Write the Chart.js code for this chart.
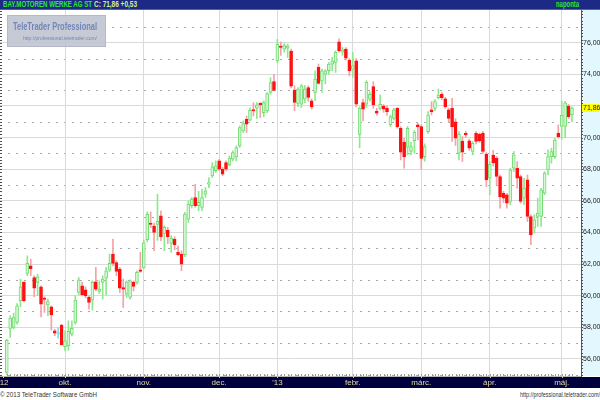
<!DOCTYPE html>
<html>
<head>
<meta charset="utf-8">
<script src="https://cdn.jsdelivr.net/npm/chart.js@4.4.0/dist/chart.umd.min.js"></script>
<style>
  html, body { margin: 0; padding: 0; background: #fff; }
  #wrap { position: relative; width: 600px; height: 400px; overflow: hidden;
          font-family: "Liberation Sans Narrow", "Liberation Sans", Arial, sans-serif; }
  #title { position: absolute; left: 0; top: 0; width: 600px; height: 9px;
           background: #1c2a86; border-bottom: 1px solid #5060b0; }
  #title span, #footer span, #logo span { position: absolute; white-space: nowrap; transform-origin: 0 0; }
  #title span { top: 0; font-size: 9px; line-height: 9px; font-weight: bold; }
  #tName, #tFreq { color: #2ee82e; }
  #tQuote { color: #d8f08a; }
  #chart { position: absolute; left: 0; top: 10px; }
  #logo { position: absolute; left: 7px; top: 15px; width: 97px; height: 30px;
          background: rgba(192, 196, 208, 0.9); border: 1px solid #b4b8c8; }
  #logo span { color: #7486b8; }
  #lName { left: 5px; top: 4px; font-size: 11px; line-height: 12px; font-weight: bold; }
  #lUrl { left: 15px; top: 19px; font-size: 6px; line-height: 7px; }
  #footer span { top: 390px; font-size: 8px; line-height: 10px; color: #333; }
</style>
</head>
<body>
<div id="wrap">
  <div id="title">
    <span id="tName">BAY.MOTOREN WERKE AG ST</span>
    <span id="tQuote">C: 71,86 +0,53</span>
    <span id="tFreq">naponta</span>
  </div>
  <canvas id="chart" width="600" height="378"></canvas>
  <div id="logo">
    <span id="lName">TeleTrader Professional</span>
    <span id="lUrl">http://professional.teletrader.com/</span>
  </div>
  <div id="footer">
    <span id="fCopy">© 2013 TeleTrader Software GmbH</span>
    <span id="fUrl">http://professional.teletrader.com/</span>
  </div>
</div>
<script>
// month labels of the time axis and the trading day each month starts on
const monthLabels = ["'12", 'okt.', 'nov.', 'dec.', "'13", 'febr.', 'márc.', 'ápr.', 'máj.'];
const monthStarts = [-1, 17, 40, 62, 79, 101, 121, 141, 162];
const priceTicks = [56, 58, 60, 62, 64, 66, 68, 70, 72, 74, 76];

// daily OHLC, 2012-09-06 .. 2013-05-07
const opens = [
  55.14, 57.93, 58.0, 58.31, 59.68, 60.84, 61.41, 61.89, 61.15, 60.84,
  60.56, 59.85, 59.42, 59.30, 57.78, 57.6, 58.14, 56.77, 56.83, 57.57,
  58.31, 60.2, 60.63, 60.37, 59.89, 59.72, 60.88, 60.27, 60.84, 61.11,
  61.62, 62.63, 62.10, 61.68, 60.52, 60.1, 59.89, 60.84, 60.84, 61.64,
  61.75, 63.55, 64.6, 64.4, 64.5, 65.05, 63.94, 64.15, 63.31, 63.58,
  62.74, 62.63, 62.6, 64.84, 65.69, 66.21, 65.69, 65.58, 66.42, 67.05,
  67.58, 67.9, 68.53, 68.0, 68.42, 68.27, 68.63, 68.78, 69.48, 70.42,
  71.16, 71.1, 71.77, 71.86, 72.17, 71.58, 71.69, 72.85, 73.54, 74.85,
  75.78, 75.6, 75.65, 75.47, 73.0, 72.16, 72.12, 72.43, 73.17, 72.33,
  72.85, 74.44, 73.59, 74.01, 74.23, 74.65, 74.75, 76.05, 75.4, 75.6,
  74.9, 74.33, 74.86, 70.2, 72.22, 72.11, 72.43, 73.22, 71.68, 71.85,
  72.0, 71.85, 70.8, 71.22, 71.85, 70.59, 69.7, 69.4, 69.12, 69.8,
  70.8, 70.69, 68.8, 70.38, 71.75, 71.85, 72.53, 72.74, 72.45, 71.75,
  71.85, 71.0, 69.01, 69.78, 70.27, 69.8, 69.12, 70.27, 70.2, 70.27,
  68.95, 67.43, 68.9, 68.69, 67.54, 66.48, 66.38, 65.96, 68.06, 68.06,
  67.54, 66.17, 67.33, 65.01, 64.27, 65.01, 65.01, 66.48, 67.96, 68.8,
  68.8, 70.27, 70.7, 70.7, 72.0, 71.45
];
const highs = [
  57.25, 58.73, 58.9, 59.5, 61.05, 60.9, 62.52, 62.31, 61.26, 61.36,
  60.63, 59.93, 59.78, 59.36, 57.88, 57.99, 58.2, 57.78, 58.41, 58.41,
  60.0, 61.15, 60.84, 60.56, 60.0, 60.94, 61.79, 60.94, 61.26, 61.79,
  62.63, 63.58, 62.21, 61.79, 61.05, 60.94, 61.0, 60.94, 61.58, 62.74,
  63.52, 65.3, 65.3, 64.6, 66.42, 65.37, 64.42, 64.32, 63.8, 63.73,
  63.16, 62.84, 65.27, 66.0, 66.21, 67.05, 66.6, 66.74, 66.84, 67.47,
  68.42, 68.53, 68.63, 68.11, 68.53, 68.84, 69.16, 69.48, 70.74, 71.06,
  71.37, 71.9, 72.21, 72.21, 72.21, 72.32, 72.85, 73.79, 74.0, 76.21,
  76.05, 75.95, 75.92, 75.6, 73.28, 73.17, 73.38, 73.3, 73.28, 72.45,
  74.23, 74.65, 74.33, 74.3, 74.75, 75.07, 75.49, 76.25, 75.7, 75.7,
  75.0, 75.39, 75.0, 71.95, 72.43, 73.6, 72.9, 73.54, 71.85, 72.7,
  72.1, 72.0, 71.43, 71.85, 71.9, 70.69, 69.96, 70.7, 69.7, 70.45,
  70.9, 70.8, 69.6, 71.64, 72.27, 72.4, 73.07, 72.85, 72.55, 71.85,
  72.48, 71.2, 70.38, 70.06, 70.4, 69.9, 69.75, 70.4, 70.3, 70.4,
  69.05, 68.48, 69.2, 68.8, 67.64, 66.6, 66.48, 68.06, 69.12, 68.48,
  67.64, 67.43, 67.64, 65.12, 65.12, 66.17, 66.8, 67.85, 69.22, 69.33,
  69.96, 70.8, 72.3, 72.3, 72.1, 71.95
];
const lows = [
  55.0, 57.36, 57.9, 58.2, 59.3, 59.6, 61.26, 61.26, 59.93, 60.0,
  58.66, 58.94, 58.73, 57.82, 57.46, 57.31, 56.89, 56.51, 56.55, 57.46,
  58.2, 60.06, 59.99, 59.85, 59.15, 59.09, 60.31, 60.14, 59.78, 60.06,
  61.53, 61.89, 61.26, 60.20, 59.25, 59.89, 59.78, 60.3, 60.73, 61.47,
  61.7, 63.4, 64.3, 62.85, 63.5, 63.48, 62.84, 63.3, 62.74, 62.9,
  62.53, 61.58, 62.47, 64.63, 65.54, 65.58, 65.37, 65.37, 66.21, 66.84,
  67.47, 67.79, 67.9, 67.58, 67.9, 68.21, 68.53, 68.53, 69.37, 70.32,
  70.32, 71.06, 71.37, 71.22, 71.27, 71.31, 71.58, 72.74, 72.95, 74.74,
  75.2, 75.4, 75.07, 73.14, 71.7, 71.95, 71.9, 72.2, 72.3, 71.8,
  72.33, 73.38, 72.85, 73.4, 74.0, 74.23, 74.12, 75.4, 75.2, 74.9,
  73.9, 73.8, 71.95, 69.35, 71.06, 71.9, 72.3, 71.85, 71.43, 71.75,
  71.6, 71.4, 70.69, 71.12, 70.6, 68.59, 68.06, 68.9, 68.9, 69.0,
  69.85, 68.0, 68.5, 70.27, 71.43, 71.7, 72.45, 72.4, 71.85, 71.0,
  69.75, 69.5, 68.59, 68.48, 70.0, 69.2, 68.9, 69.6, 69.7, 69.0,
  66.9, 66.38, 68.2, 67.01, 65.54, 65.9, 65.54, 65.75, 67.85, 66.8,
  65.85, 65.75, 64.69, 63.22, 63.96, 64.38, 64.38, 66.38, 67.64, 68.38,
  68.69, 69.96, 69.9, 70.0, 71.2, 71.0
];
const closes = [
  57.19, 58.58, 58.62, 59.36, 60.56, 59.68, 62.04, 61.71, 60.48, 61.2,
  59.47, 59.76, 59.63, 58.79, 57.63, 57.6, 56.89, 57.15, 57.74, 57.93,
  59.72, 61.01, 60.06, 59.99, 59.57, 60.84, 60.42, 60.42, 61.05, 61.58,
  62.04, 62.04, 61.53, 60.48, 60.42, 60.88, 60.94, 60.58, 61.47, 61.53,
  63.35, 65.15, 64.5, 64.0, 64.7, 63.73, 64.32, 63.73, 63.64, 63.22,
  62.6, 62.0, 65.16, 65.79, 66.11, 65.69, 65.9, 66.21, 66.63, 67.16,
  68.15, 68.21, 68.0, 67.69, 68.0, 68.7, 69.05, 69.37, 70.63, 70.89,
  70.85, 71.73, 71.69, 72.07, 72.07, 72.21, 72.78, 73.48, 72.99, 75.9,
  75.7, 75.82, 75.8, 73.25, 72.22, 73.07, 73.28, 73.07, 72.54, 71.95,
  73.7, 73.42, 74.23, 74.23, 74.65, 74.86, 75.39, 75.5, 75.55, 75.03,
  74.23, 74.54, 72.12, 71.86, 71.8, 73.49, 72.74, 72.06, 71.54, 72.1,
  71.8, 71.64, 71.33, 71.75, 70.69, 69.07, 68.8, 70.59, 69.43, 70.35,
  70.69, 68.69, 69.43, 71.43, 71.64, 72.27, 72.69, 72.53, 71.96, 71.22,
  70.69, 69.96, 70.2, 69.07, 70.17, 69.33, 69.64, 69.75, 69.8, 69.12,
  67.33, 68.32, 68.4, 67.54, 66.27, 66.17, 65.85, 67.96, 68.91, 67.43,
  65.96, 66.8, 65.01, 63.85, 64.8, 65.22, 66.69, 67.75, 68.8, 69.12,
  69.85, 70.06, 71.4, 72.2, 71.33, 71.86
];

const lastClose = closes[closes.length - 1];
const fmt = v => v.toFixed(2).replace('.', ',');

function trend(i) {
  if (closes[i] > opens[i]) return 'up';
  if (closes[i] < opens[i]) return 'down';
  return 'flat';
}
const bodyFill = { up: '#d8f8d8', down: '#ff1010', flat: '#80e0f0' };
const bodyLine = { up: '#70dc70', down: '#ff1010', flat: '#80e0f0' };
const wickColor = { up: '#8ee88e', down: '#f4a2a8', flat: '#80e0f0' };

const wicks = opens.map((o, i) => ({ x: i, y: [lows[i], highs[i]] }));
const bodies = opens.map((o, i) => ({ x: i, y: [o, closes[i]] }));

// backgrounds, dotted half-grid, small tick marks and the last-price marker
const decor = {
  id: 'decor',
  beforeDraw(chart) {
    const { ctx, chartArea: a, scales: { x, y } } = chart;
    ctx.save();
    ctx.fillStyle = '#e2f8fe';
    ctx.fillRect(a.right, a.top, chart.width - a.right, a.bottom - a.top);
    ctx.fillStyle = '#00003e';
    ctx.fillRect(0, x.top + 1, chart.width, x.bottom - x.top - 1);
    ctx.strokeStyle = '#a8a8a8';
    ctx.setLineDash([2, 6]);
    ctx.lineWidth = 1;
    for (let v = 55; v <= 77; v += 2) {
      const py = Math.round(y.getPixelForValue(v)) + 0.5;
      ctx.beginPath(); ctx.moveTo(a.left, py); ctx.lineTo(a.right, py); ctx.stroke();
    }
    ctx.restore();
  },
  afterDraw(chart) {
    const { ctx, chartArea: a, scales: { x, y } } = chart;
    ctx.save();
    ctx.lineWidth = 1;
    // minor ticks on the price axes
    ctx.strokeStyle = '#505050';
    for (let v = Math.ceil(y.min * 5) / 5; v <= y.max; v += 0.2) {
      const py = Math.round(y.getPixelForValue(v)) + 0.5;
      ctx.beginPath(); ctx.moveTo(a.right, py); ctx.lineTo(a.right + 2, py); ctx.stroke();
      ctx.beginPath(); ctx.moveTo(0, py); ctx.lineTo(2, py); ctx.stroke();
    }
    // day ticks along the bottom edge
    ctx.strokeStyle = '#9a9a9a';
    opens.forEach((o, i) => {
      const px = Math.round(x.getPixelForValue(i)) + 0.5;
      ctx.beginPath(); ctx.moveTo(px, a.bottom - 2); ctx.lineTo(px, a.bottom); ctx.stroke();
    });
    // month ticks on the time bar
    ctx.strokeStyle = '#d8d090';
    monthStarts.forEach(m => {
      const px = Math.round(x.getPixelForValue(m)) + 0.5;
      ctx.beginPath(); ctx.moveTo(px, x.top); ctx.lineTo(px, x.top + 2); ctx.stroke();
    });
    // last price label
    const py = Math.round(y.getPixelForValue(lastClose));
    ctx.fillStyle = '#ffff00';
    ctx.fillRect(a.right + 1, py - 4, chart.width - a.right - 2, 8);
    ctx.fillStyle = '#202020';
    ctx.font = '7px "Liberation Sans Narrow", "Liberation Sans", Arial';
    ctx.textBaseline = 'middle';
    ctx.fillText(fmt(lastClose), a.right + 2, py + 0.5);
    ctx.restore();
  }
};

new Chart(document.getElementById('chart'), {
  type: 'bar',
  data: {
    datasets: [
      {
        label: 'body',
        data: bodies,
        grouped: false,
        order: 1,
        barThickness: 3,
        minBarLength: 1,
        borderWidth: 1,
        borderSkipped: false,
        backgroundColor: c => bodyFill[trend(c.dataIndex)],
        borderColor: c => bodyLine[trend(c.dataIndex)]
      },
      {
        label: 'wick',
        data: wicks,
        grouped: false,
        order: 2,
        barThickness: 1,
        borderWidth: 0,
        backgroundColor: c => wickColor[trend(c.dataIndex)]
      }
    ]
  },
  options: {
    responsive: false,
    animation: false,
    devicePixelRatio: 1,
    layout: { padding: 0 },
    plugins: { legend: { display: false }, tooltip: { enabled: false } },
    scales: {
      x: {
        type: 'linear',
        min: -1.976,
        max: 167.63,
        offset: false,
        grid: {
          offset: false,
          drawTicks: false,
          color: c => (c.index === 0 ? 'rgba(0,0,0,0)' : '#dadada')
        },
        border: { color: '#b4b4b4' },
        ticks: {
          autoSkip: false,
          maxRotation: 0,
          padding: 2,
          color: '#e4dca0',
          font: { size: 8, family: '"Liberation Sans Narrow", "Liberation Sans", Arial' },
          callback: (v, i) => monthLabels[i]
        },
        afterBuildTicks: s => { s.ticks = monthStarts.map(v => ({ value: v })); },
        afterFit: s => { s.height = 12; s.paddingLeft = 0; s.paddingRight = 0; }
      },
      y: {
        type: 'linear',
        position: 'right',
        min: 54.92,
        max: 78.07,
        grid: { drawTicks: false, color: '#dadada' },
        border: { color: '#5a5a5a' },
        ticks: {
          padding: 2,
          color: '#202020',
          font: { size: 7, family: '"Liberation Sans Narrow", "Liberation Sans", Arial' },
          callback: v => (Math.abs(v - lastClose) < 0.5 ? '' : fmt(v))
        },
        afterBuildTicks: s => { s.ticks = priceTicks.map(v => ({ value: v })); },
        afterFit: s => { s.width = 19; s.paddingTop = 0; s.paddingBottom = 0; }
      }
    }
  },
  plugins: [decor]
});

// squeeze the html labels to the widths they have in the original
function fit(id, left, width) {
  const el = document.getElementById(id);
  el.style.left = left + 'px';
  const w = el.getBoundingClientRect().width;
  el.style.transform = 'scaleX(' + (width / w) + ')';
}
fit('tName', 3, 89);
fit('tQuote', 94, 43);
fit('tFreq', 556, 23);
fit('lName', 5, 84);
fit('lUrl', 15, 74);
fit('fCopy', 0, 97);
fit('fUrl', 520, 80);
</script>
</body>
</html>
